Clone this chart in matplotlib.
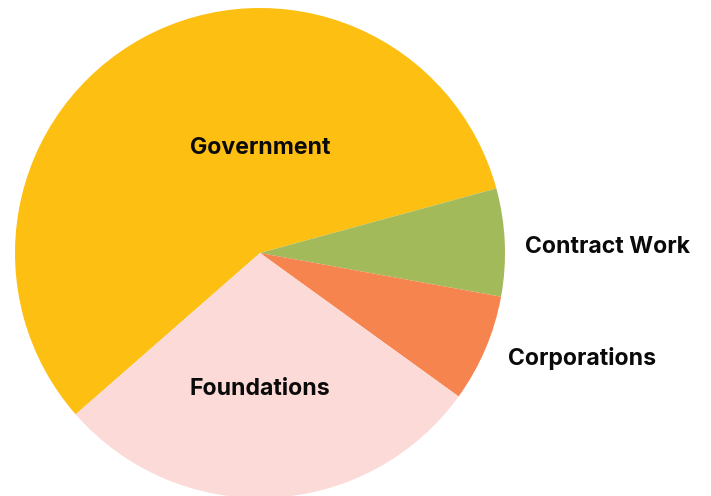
import matplotlib.pyplot as plt

# shares of funding (percent)
categories = ['Government', 'Contract Work', 'Corporations', 'Foundations']
shares = [57.2, 7.1, 7.1, 28.6]
colors = ['#FDBF11', '#A3BA5A', '#F6844E', '#FBDAD7']

fig = plt.figure(figsize=(7.11, 4.96), dpi=100)
ax = fig.add_axes([0, 0, 1, 1])

# pie in pixel units, center (260, 253) from the top
ax.pie(shares, colors=colors, center=(260, 496 - 253), radius=245,
       startangle=221.2, counterclock=False, frame=True,
       wedgeprops=dict(linewidth=0))
ax.set_xlim(0, 711)
ax.set_ylim(0, 496)
ax.set_aspect('equal')
ax.axis('off')

font = dict(family=['Inter', 'DejaVu Sans'], fontsize=16.6, fontweight='bold',
            color='#0a0a0a', va='center')
ax.text(260, 496 - 148, categories[0], ha='center', **font)
ax.text(525, 496 - 247, categories[1], ha='left', **font)
ax.text(508, 496 - 358, categories[2], ha='left', **font)
ax.text(260, 496 - 389, categories[3], ha='center', **font)

plt.savefig('out.png', dpi=100)
